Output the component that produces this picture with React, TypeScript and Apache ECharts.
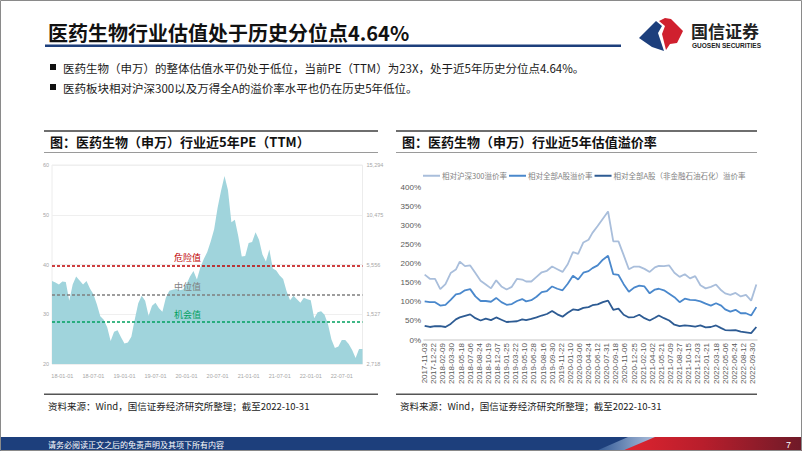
import React, { useEffect, useRef } from 'react';
import * as echarts from 'echarts';

// ---------- Data ----------
const titleText = '医药生物行业估值处于历史分位点4.64%';
const bulletTexts = [
  '医药生物（申万）的整体估值水平仍处于低位，当前PE（TTM）为23X，处于近5年历史分位点4.64%。',
  '医药板块相对沪深300以及万得全A的溢价率水平也仍在历史5年低位。',
];
const leftPanelTitle = '图：医药生物（申万）行业近5年PE（TTM）';
const rightPanelTitle = '图：医药生物（申万）行业近5年估值溢价率';
const sourceText = '资料来源：Wind，国信证券经济研究所整理；截至2022-10-31';
const footerText = '请务必阅读正文之后的免责声明及其项下所有内容';
const pageNumber = '7';

// Left chart: PE (TTM), ~20-day steps from 2017-11 to 2022-10
const peXLabels = ['18-01-01', '18-07-01', '19-01-01', '19-07-01', '20-01-01', '20-07-01', '21-01-01', '21-07-01', '22-01-01', '22-07-01'];
const peValues = [
  36.7, 36.4, 36.0, 36.6, 36.5, 32.7, 36.0, 37.6, 36.8, 36.0,
  36.7, 35.2, 34.0, 32.0, 29.6, 28.9, 27.4, 24.6, 26.5, 26.8,
  25.4, 24.1, 24.3, 25.5, 29.0, 32.2, 33.7, 32.7, 29.7, 31.7,
  32.3, 31.2, 30.5, 33.3, 34.7, 34.9, 35.1, 34.8, 35.0, 36.1,
  37.6, 38.7, 37.0, 39.4, 41.1, 42.5, 44.6, 47.1, 51.4, 54.8,
  57.8, 55.0, 48.5, 49.0, 45.7, 41.6, 41.7, 44.3, 44.5, 46.5,
  45.0, 42.0, 40.6, 43.0, 39.2, 38.8, 37.8, 37.1, 34.6, 32.8,
  33.7, 33.0, 32.3, 33.3, 33.0, 32.8, 29.2, 30.4, 30.6, 29.9,
  28.0, 24.9, 23.2, 23.5, 24.8, 24.8, 24.0, 22.8, 21.2, 23.0,
  23.0,
];
const peLevels = [39.8, 34.0, 28.5];
const peLevelNames = ['危险值', '中位值', '机会值'];
const peRightLabels = ['2,718', '1,527', '5,556', '10,475', '15,294'];

// Right chart: premium rates (weekly trading dates, labels every 7 weeks)
const premiumDateLabels = [
  '2017-11-03', '2017-12-22', '2018-02-09', '2018-03-30', '2018-05-18', '2018-07-06', '2018-08-24', '2018-10-19',
  '2018-12-07', '2019-01-25', '2019-03-22', '2019-05-10', '2019-06-28', '2019-08-16', '2019-09-30', '2019-11-22',
  '2020-01-10', '2020-03-06', '2020-04-24', '2020-06-12', '2020-07-31', '2020-09-18', '2020-11-06', '2020-12-25',
  '2021-02-10', '2021-04-02', '2021-05-21', '2021-07-09', '2021-08-27', '2021-10-15', '2021-12-03', '2022-01-21',
  '2022-03-18', '2022-05-06', '2022-06-24', '2022-08-12', '2022-09-30',
];
const premiumWeekCount = 256;
const premiumNames = ['相对沪深300溢价率', '相对全部A股溢价率', '相对全部A股（非金融石油石化）溢价率'];
const hs300Premium = [
  171, 160, 160, 133, 146, 175, 184, 205, 193, 195,
  175, 155, 145, 135, 156, 140, 132, 139, 160, 158,
  153, 153, 165, 177, 181, 192, 185, 178, 198, 230,
  225, 255, 262, 280, 298, 317, 336, 258, 258, 222,
  185, 192, 192, 186, 178, 190, 194, 193, 195, 176,
  165, 172, 161, 167, 143, 135, 139, 145, 130, 122,
  118, 123, 114, 118, 103, 145,
];
const allAPremium = [
  101, 99, 99, 90, 92, 105, 119, 121, 130, 133,
  114, 102, 102, 100, 110, 99, 92, 94, 102, 107,
  101, 104, 113, 125, 128, 140, 134, 130, 147, 168,
  158, 176, 180, 188, 195, 210, 220, 172, 170, 146,
  126, 137, 142, 140, 122, 132, 134, 130, 121, 112,
  99, 108, 105, 104, 101, 95, 90, 96, 90, 80,
  74, 79, 70, 70, 64, 86,
];
const allAExFinPremium = [
  37, 34, 36, 36, 34, 42, 54, 59, 63, 67,
  57, 51, 56, 52, 59, 53, 47, 48, 49, 54,
  52, 55, 59, 64, 68, 76, 67, 61, 71, 80,
  78, 84, 86, 91, 93, 99, 103, 79, 82, 66,
  59, 60, 66, 57, 51, 58, 64, 57, 51, 40,
  36, 38, 37, 35, 38, 33, 34, 38, 31, 26,
  25, 26, 22, 20, 18, 34,
];

// ---------- Styles ----------
const CJK = '"Noto Sans CJK SC", "Noto Sans", sans-serif';
const ARIAL = '"Liberation Sans", Arial, sans-serif';
const NAVY = '#1d3f7c';
const premiumColors = ['#a9bedb', '#4a88cc', '#2d5b93'];
const levelColors = ['#c00000', '#7f7f7f', '#00a060'];

function buildPeCategories() {
  const labelStep = 9;
  const labelStart = 3;
  return peValues.map((_, i) => {
    const k = (i - labelStart) / labelStep;
    return Number.isInteger(k) && k >= 0 && k < peXLabels.length ? peXLabels[k] : `p${i}`;
  });
}

function buildPremiumCategories() {
  return Array.from({ length: premiumWeekCount }, (_, i) => {
    const k = i / 7;
    return Number.isInteger(k) && k < premiumDateLabels.length ? premiumDateLabels[k] : `w${i}`;
  });
}

function spreadWeekly(values: number[]) {
  const out: (number | null)[] = new Array(premiumWeekCount).fill(null);
  const n = values.length;
  values.forEach((v, k) => {
    out[Math.round((k * (premiumWeekCount - 1)) / (n - 1))] = v;
  });
  return out;
}

export default function App() {
  const ref = useRef<HTMLDivElement>(null);

  useEffect(() => {
    const el = ref.current;
    if (!el) return;
    const chart = echarts.init(el, null, { renderer: 'svg' });

    const peCats = buildPeCategories();
    const premCats = buildPremiumCategories();
    const premSeriesData = [hs300Premium, allAPremium, allAExFinPremium].map(spreadWeekly);

    const graphic: any[] = [
      // slide border
      { type: 'rect', z: 100, shape: { x: 0.5, y: 0.5, width: 801, height: 450 }, style: { fill: 'none', stroke: '#8a8a8a', lineWidth: 1 } },
      // title
      { type: 'text', x: 48, y: 32, style: { text: titleText, fontFamily: CJK, fontSize: 20, fontWeight: 'bold', fill: '#111', verticalAlign: 'middle' } },
      { type: 'rect', shape: { x: 45, y: 44.5, width: 576, height: 2.5 }, style: { fill: NAVY } },
      // logo
      { type: 'polygon', shape: { points: [[639, 38], [656, 21], [662, 26], [658, 33], [664, 51], [652, 47]] }, style: { fill: NAVY } },
      { type: 'polygon', shape: { points: [[659, 21], [665, 18], [671, 19], [675, 23], [683, 31], [677, 43], [670, 44], [666, 50], [662, 34], [665, 26]] }, style: { fill: '#d0202e' } },
      { type: 'text', x: 691, y: 30, style: { text: '国信证券', fontFamily: CJK, fontSize: 17, fontWeight: 'bold', fill: '#222', verticalAlign: 'middle' } },
      { type: 'text', x: 692, y: 45, style: { text: 'GUOSEN SECURITIES', fontFamily: ARIAL, fontSize: 6.5, fontWeight: 'bold', fill: '#222', verticalAlign: 'middle' } },
      // bullets
      ...bulletTexts.flatMap((t, i) => [
        { type: 'rect', shape: { x: 50, y: 64 + i * 20, width: 6, height: 6 }, style: { fill: '#111' } },
        { type: 'text', x: 63, y: 67.5 + i * 20, style: { text: t, fontFamily: CJK, fontSize: 11.5, fill: '#1a1a1a', verticalAlign: 'middle' } },
      ]),
      // panel headers
      { type: 'rect', shape: { x: 44, y: 130, width: 334, height: 2 }, style: { fill: '#6e6e6e' } },
      { type: 'rect', shape: { x: 44, y: 152, width: 334, height: 1 }, style: { fill: '#9a9a9a' } },
      { type: 'text', x: 50, y: 141.5, style: { text: leftPanelTitle, fontFamily: CJK, fontSize: 13, fontWeight: 'bold', fill: '#111', verticalAlign: 'middle' } },
      { type: 'rect', shape: { x: 396, y: 130, width: 361, height: 2 }, style: { fill: '#6e6e6e' } },
      { type: 'rect', shape: { x: 396, y: 152, width: 361, height: 1 }, style: { fill: '#9a9a9a' } },
      { type: 'text', x: 402, y: 141.5, style: { text: rightPanelTitle, fontFamily: CJK, fontSize: 13, fontWeight: 'bold', fill: '#111', verticalAlign: 'middle' } },
      // panel footers
      { type: 'rect', shape: { x: 44, y: 393.5, width: 334, height: 1.5 }, style: { fill: '#555' } },
      { type: 'rect', shape: { x: 396, y: 393.5, width: 361, height: 1.5 }, style: { fill: '#555' } },
      { type: 'text', x: 48, y: 406, style: { text: sourceText, fontFamily: CJK, fontSize: 9.5, fill: '#222', verticalAlign: 'middle' } },
      { type: 'text', x: 400, y: 406, style: { text: sourceText, fontFamily: CJK, fontSize: 9.5, fill: '#222', verticalAlign: 'middle' } },
      // footer bar
      { type: 'rect', shape: { x: 0, y: 437, width: 802, height: 14 }, style: { fill: NAVY } },
      {
        type: 'polygon', shape: { points: [[596, 451], [628, 437], [660, 437], [628, 451]] },
        style: { fill: new echarts.graphic.LinearGradient(0, 0, 1, 0, [{ offset: 0, color: '#2f5794' }, { offset: 1, color: '#b9c9e2' }]) },
      },
      {
        type: 'polygon', shape: { points: [[622, 451], [655, 437], [802, 437], [802, 451]] },
        style: { fill: new echarts.graphic.LinearGradient(0, 0, 1, 0, [{ offset: 0, color: '#e0242f' }, { offset: 0.45, color: '#b81e2c' }, { offset: 1, color: '#6e1a28' }]) },
      },
      { type: 'text', x: 48, y: 444, style: { text: footerText, fontFamily: CJK, fontSize: 8, fill: '#fff', verticalAlign: 'middle' } },
      { type: 'text', x: 786, y: 444.5, style: { text: pageNumber, fontFamily: ARIAL, fontSize: 9, fill: '#fff', verticalAlign: 'middle' } },
    ];

    const option: any = {
      animation: false,
      backgroundColor: '#fff',
      textStyle: { fontFamily: CJK },
      legend: {
        data: premiumNames,
        left: 418,
        top: 167,
        icon: 'rect',
        itemWidth: 17,
        itemHeight: 2,
        itemGap: 2,
        textStyle: { fontSize: 7.5, color: '#7f7f7f', fontFamily: CJK, padding: [0, 0, 0, -3] },
      },
      grid: [
        { left: 52, top: 165, width: 310.5, height: 199, show: true, borderColor: '#ececec', borderWidth: 1, containLabel: false, outerBoundsMode: 'none' },
        { left: 424, top: 187, width: 333, height: 153, containLabel: false, outerBoundsMode: 'none' },
      ],
      xAxis: [
        {
          type: 'category', gridIndex: 0, data: peCats, boundaryGap: false,
          axisLine: { show: false }, axisTick: { show: false },
          axisLabel: {
            interval: (_i: number, v: string) => peXLabels.includes(v),
            fontSize: 5.5, color: '#a6a6a6', margin: 9, fontFamily: ARIAL,
          },
          splitLine: { show: false },
        },
        {
          type: 'category', gridIndex: 1, data: premCats, boundaryGap: true,
          axisLine: { lineStyle: { color: '#d9d9d9', width: 1.5 } }, axisTick: { show: false },
          axisLabel: { interval: 6, rotate: 90, fontSize: 8, color: '#595959', margin: 3, fontFamily: ARIAL },
          splitLine: { show: false },
        },
      ],
      yAxis: [
        {
          type: 'value', gridIndex: 0, min: 20, max: 60, interval: 10,
          axisLine: { show: false }, axisTick: { show: false },
          axisLabel: { fontSize: 5.5, color: '#a6a6a6', margin: 3, fontFamily: ARIAL },
          splitLine: { lineStyle: { color: '#efefef', width: 1 } },
        },
        {
          type: 'value', gridIndex: 0, position: 'right', min: 20, max: 60, interval: 10,
          axisLine: { show: false }, axisTick: { show: false },
          axisLabel: {
            fontSize: 5.5, color: '#a6a6a6', margin: 4, fontFamily: ARIAL,
            formatter: (v: number) => peRightLabels[Math.round((v - 20) / 10)] ?? '',
          },
          splitLine: { show: false },
        },
        {
          type: 'value', gridIndex: 1, min: 0, max: 400, interval: 50,
          axisLine: { show: false }, axisTick: { show: false },
          axisLabel: { formatter: '{value}%', fontSize: 8, color: '#595959', margin: 3, fontFamily: ARIAL },
          splitLine: { show: false },
        },
      ],
      series: [
        {
          name: 'PE(TTM)', type: 'line', xAxisIndex: 0, yAxisIndex: 0,
          data: peValues, symbol: 'none', smooth: false,
          lineStyle: { width: 0, color: '#a0d4dc' },
          areaStyle: { color: '#a0d4dc', opacity: 1, origin: 'start' },
          markLine: {
            silent: true, symbol: ['none', 'none'], animation: false,
            data: peLevels.map((v, i) => ({
              yAxis: v,
              lineStyle: { color: levelColors[i], type: [3, 2], width: 1.5 },
              label: {
                show: true, formatter: peLevelNames[i], color: levelColors[i], fontSize: 9,
                fontFamily: CJK, position: 'insideStartTop', distance: [122, 3],
              },
            })),
          },
        },
        ...premiumNames.map((name, i) => ({
          name, type: 'line', xAxisIndex: 1, yAxisIndex: 2,
          data: premSeriesData[i], connectNulls: true, symbol: 'none', showSymbol: false,
          lineStyle: { color: premiumColors[i], width: 1.8 },
          itemStyle: { color: premiumColors[i] },
          z: 3 + i,
        })),
      ],
      graphic,
    };

    chart.setOption(option);
    return () => chart.dispose();
  }, []);

  return (
    <div
      ref={ref}
      style={{ position: 'fixed', left: 0, top: 0, width: 802, height: 451, background: '#fff' }}
    />
  );
}
